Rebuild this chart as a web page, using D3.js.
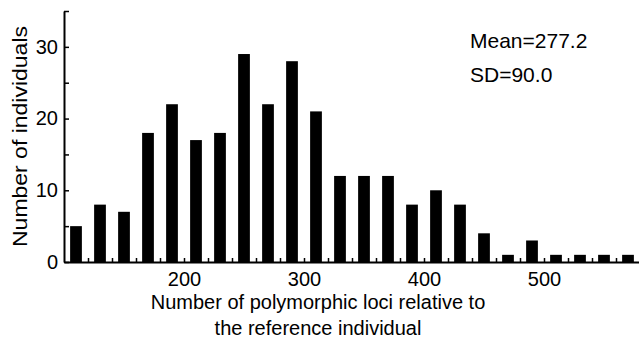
<!DOCTYPE html>
<html>
<head>
<meta charset="utf-8">
<script src="https://cdn.jsdelivr.net/npm/d3@7"></script>
<style>
  html, body { margin: 0; padding: 0; background: #fff; }
  svg { display: block; font-family: "Liberation Sans", Arial, sans-serif; }
</style>
</head>
<body>
<div id="chart"></div>
<script>
// histogram bins (lower edge of each 20-wide bin) and the count in it
const binStarts = [100, 120, 140, 160, 180, 200, 220, 240, 260, 280, 300, 320,
                   340, 360, 380, 400, 420, 440, 460, 480, 500, 520, 540, 560]
const counts = [5, 8, 7, 18, 22, 17, 18, 29, 22, 28, 21, 12,
                12, 12, 8, 10, 8, 4, 1, 3, 1, 1, 1, 1]
const binWidth = 20

const xMinorTicks = [120, 140, 160, 180, 200, 220, 240, 260, 280, 300, 320, 340,
                     360, 380, 400, 420, 440, 460, 480, 500, 520, 540, 560, 580]
const xTickLabels = [200, 300, 400, 500]
const yMinorTicks = [0, 5, 10, 15, 20, 25, 30, 35]
const yTickLabels = [0, 10, 20, 30]
const statsLines = ['Mean=277.2', 'SD=90.0']

const xTitle = ['Number of polymorphic loci relative to', 'the reference individual']
const yTitle = 'Number of individuals'

const width = 639
const height = 343

const x = d3.scaleLinear().domain([100, 580]).range([64, 640])
const y = d3.scaleLinear().domain([0, 35]).range([262, 11])

const svg = d3.select('#chart').append('svg')
    .attr('width', width)
    .attr('height', height)

// bars, a bit under half of the bin wide, centred in the bin
const barW = (x(binWidth) - x(0)) * 0.49
svg.append('g').selectAll('rect')
    .data(counts).enter().append('rect')
    .attr('x', (d, i) => x(binStarts[i] + binWidth / 2) - barW / 2)
    .attr('y', d => y(d))
    .attr('width', barW)
    .attr('height', d => y(0) - y(d))
    .attr('fill', '#000')

// x axis: ticks point inward, labels only every 100
const xAxis = d3.axisBottom(x)
    .tickValues(xMinorTicks)
    .tickSizeInner(-4)
    .tickSizeOuter(0)
    .tickPadding(10)
    .tickFormat(d => xTickLabels.includes(d) ? d : '')

const gx = svg.append('g')
    .attr('transform', `translate(0,${y(0)})`)
    .call(xAxis)
gx.select('.domain').attr('stroke-width', 2)
gx.selectAll('.tick line').attr('stroke-width', 1.5)
gx.selectAll('.tick text')
    .attr('font-size', 20)
    .attr('font-family', '"Liberation Sans", Arial, sans-serif')
    .attr('fill', '#000')

// y axis, same idea
const yAxis = d3.axisLeft(y)
    .tickValues(yMinorTicks)
    .tickSizeInner(-5)
    .tickSizeOuter(0)
    .tickPadding(6)
    .tickFormat(d => yTickLabels.includes(d) ? d : '')

const gy = svg.append('g')
    .attr('transform', `translate(${x(100)},0)`)
    .call(yAxis)
gy.select('.domain').attr('stroke-width', 2)
gy.selectAll('.tick line').attr('stroke-width', 1.5)
gy.selectAll('.tick text')
    .attr('font-size', 20)
    .attr('font-family', '"Liberation Sans", Arial, sans-serif')
    .attr('fill', '#000')

// axis titles
svg.append('text')
    .attr('text-anchor', 'middle')
    .attr('font-size', 20)
    .selectAll('tspan')
    .data(xTitle).enter().append('tspan')
    .attr('x', 318)
    .attr('y', (d, i) => 309 + i * 26)
    .text(d => d)

svg.append('text')
    .attr('text-anchor', 'middle')
    .attr('font-size', 20)
    .attr('textLength', 221)
    .attr('lengthAdjust', 'spacingAndGlyphs')
    .attr('transform', `translate(27,${(y(0) + y(35)) / 2}) rotate(-90)`)
    .text(yTitle)

// mean / sd note
svg.append('g').selectAll('text')
    .data(statsLines).enter().append('text')
    .attr('x', 470)
    .attr('y', (d, i) => 48 + i * 34)
    .attr('font-size', 21)
    .text(d => d)
</script>
</body>
</html>
